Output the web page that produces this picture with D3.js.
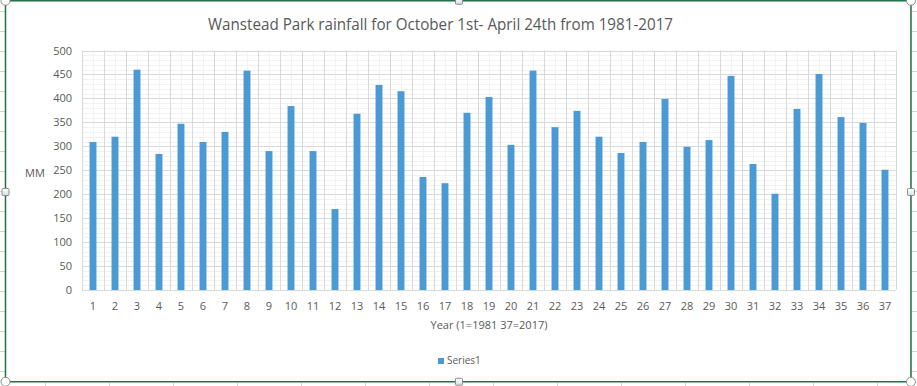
<!DOCTYPE html>
<html lang="en">

<head>
    <meta charset="UTF-8">
    <script src="https://d3js.org/d3.v7.min.js" charset="utf-8"></script>
    <title>Wanstead Park rainfall</title>
    <style>
        body { margin: 0; background: #fff; }
        svg text { font-family: "Open Sans", sans-serif; fill: #595959; }
    </style>
</head>

<body>
    <div id="chart"></div>

    <script>
        // data
        const years = ["1", "2", "3", "4", "5", "6", "7", "8", "9", "10",
            "11", "12", "13", "14", "15", "16", "17", "18", "19", "20",
            "21", "22", "23", "24", "25", "26", "27", "28", "29", "30",
            "31", "32", "33", "34", "35", "36", "37"];
        const rainfall = [309, 320, 460, 284, 347, 309, 330, 458, 290, 384,
            290, 169, 368, 428, 415, 236, 223, 370, 403, 303,
            458, 340, 374, 320, 286, 309, 399, 299, 313, 447,
            263, 201, 378, 451, 361, 349, 251];
        const yTicks = [0, 50, 100, 150, 200, 250, 300, 350, 400, 450, 500];
        const seriesName = "Series1";

        const width = 917, height = 386;
        const plotLeft = 82, plotRight = 896, plotTop = 50.5, plotBottom = 290;

        const svg = d3.select('#chart').append("svg")
            .attr("width", width)
            .attr("height", height);

        // sheet cells peeking out round the chart frame
        const sheet = svg.append("g").attr("stroke", "#d4d4d4").attr("stroke-width", 1);
        d3.range(11.5, 380, 20).forEach(function (yy) {
            sheet.append("line").attr("x1", 0).attr("x2", 5).attr("y1", yy).attr("y2", yy);
            sheet.append("line").attr("x1", 912).attr("x2", 917).attr("y1", yy).attr("y2", yy);
        });
        d3.range(45.5, 900, 64).forEach(function (xx) {
            sheet.append("line").attr("x1", xx).attr("x2", xx).attr("y1", 383).attr("y2", 386);
        });
        sheet.append("line").attr("x1", 910.5).attr("x2", 910.5).attr("y1", 0).attr("y2", 382);

        const x = d3.scaleBand().domain(years).range([plotLeft, plotRight]).padding(0);
        const y = d3.scaleLinear().domain([0, 500]).range([plotBottom, plotTop]);
        const bw = x.bandwidth();
        const barW = bw * 0.315;

        const grid = svg.append("g");
        // minor grid
        grid.selectAll(".hminor").data(y.ticks(50)).enter().append("line")
            .attr("x1", plotLeft).attr("x2", plotRight)
            .attr("y1", d => Math.round(y(d)) + 0.5).attr("y2", d => Math.round(y(d)) + 0.5)
            .attr("stroke", "#f2f2f2");
        grid.selectAll(".vminor").data(years).enter().append("line")
            .attr("x1", d => Math.round(x(d) + bw / 2) + 0.5).attr("x2", d => Math.round(x(d) + bw / 2) + 0.5)
            .attr("y1", plotTop).attr("y2", plotBottom)
            .attr("stroke", "#f2f2f2");
        // major grid
        grid.selectAll(".hmajor").data(yTicks).enter().append("line")
            .attr("x1", plotLeft).attr("x2", plotRight)
            .attr("y1", d => Math.round(y(d)) + 0.5).attr("y2", d => Math.round(y(d)) + 0.5)
            .attr("stroke", "#d9d9d9");
        grid.selectAll(".vmajor").data(years.concat(["end"])).enter().append("line")
            .attr("x1", d => Math.round(d === "end" ? plotRight : x(d)) + 0.5)
            .attr("x2", d => Math.round(d === "end" ? plotRight : x(d)) + 0.5)
            .attr("y1", plotTop).attr("y2", plotBottom)
            .attr("stroke", "#d9d9d9");

        svg.append("g").selectAll("rect")
            .data(rainfall)
            .enter()
            .append("rect")
            .attr("x", (d, i) => x(years[i]) + (bw - barW) / 2)
            .attr("y", d => y(d))
            .attr("width", barW)
            .attr("height", d => y(0) - y(d))
            .attr("fill", "#4a9ad6");

        const yAxis = svg.append("g")
            .attr("transform", "translate(" + plotLeft + ",0)")
            .call(d3.axisLeft(y).tickValues(yTicks).tickSize(0).tickPadding(10));
        yAxis.select(".domain").remove();
        yAxis.selectAll("text").style("font-size", "11px").style("fill", "#595959");

        const xAxis = svg.append("g")
            .attr("transform", "translate(0," + plotBottom + ")")
            .call(d3.axisBottom(x).tickSize(0).tickPadding(12));
        xAxis.select(".domain").remove();
        xAxis.selectAll("text").style("font-size", "11px").style("fill", "#595959");

        // title, squeezed to span the same width as in the picture
        svg.append("text")
            .attr("x", 440.5).attr("y", 29.5)
            .attr("text-anchor", "middle")
            .attr("textLength", 465)
            .attr("lengthAdjust", "spacingAndGlyphs")
            .style("font-size", "16.5px")
            .text("Wanstead Park rainfall for October 1st- April 24th from 1981-2017");

        svg.append("text")
            .attr("x", 25).attr("y", 176.5)
            .style("font-size", "11px")
            .text("MM");

        svg.append("text")
            .attr("x", (plotLeft + plotRight) / 2).attr("y", 329)
            .attr("text-anchor", "middle")
            .style("font-size", "11px")
            .text("Year (1=1981 37=2017)");

        // legend
        svg.append("rect")
            .attr("x", 438).attr("y", 358).attr("width", 6).attr("height", 6)
            .attr("fill", "#4a9ad6");
        svg.append("text")
            .attr("x", 447).attr("y", 364)
            .style("font-size", "10px")
            .text(seriesName);

        // selected chart frame with handles
        svg.append("rect")
            .attr("x", 5.5).attr("y", 0.75).attr("width", 905.5).attr("height", 381)
            .attr("fill", "none")
            .attr("stroke", "#217346")
            .attr("stroke-width", 1.5);

        const defs = svg.append("defs");
        const grad = defs.append("linearGradient").attr("id", "hg")
            .attr("x1", 0).attr("y1", 0).attr("x2", 0).attr("y2", 1);
        grad.append("stop").attr("offset", "0%").attr("stop-color", "#ffffff");
        grad.append("stop").attr("offset", "100%").attr("stop-color", "#d8dde6");

        [[5.5, 0.75], [911, 0.75], [5.5, 381.75], [911, 381.75]].forEach(function (p) {
            svg.append("circle").attr("cx", p[0]).attr("cy", p[1]).attr("r", 4.5)
                .attr("fill", "#fff").attr("stroke", "#8c8c8c");
        });
        [[459, 0.75], [459, 381.75], [5.5, 192], [911, 192]].forEach(function (p) {
            svg.append("rect").attr("x", p[0] - 3.5).attr("y", p[1] - 3.5)
                .attr("width", 7).attr("height", 7).attr("rx", 1)
                .attr("fill", "url(#hg)").attr("stroke", "#8c8c8c");
        });
    </script>
</body>

</html>
